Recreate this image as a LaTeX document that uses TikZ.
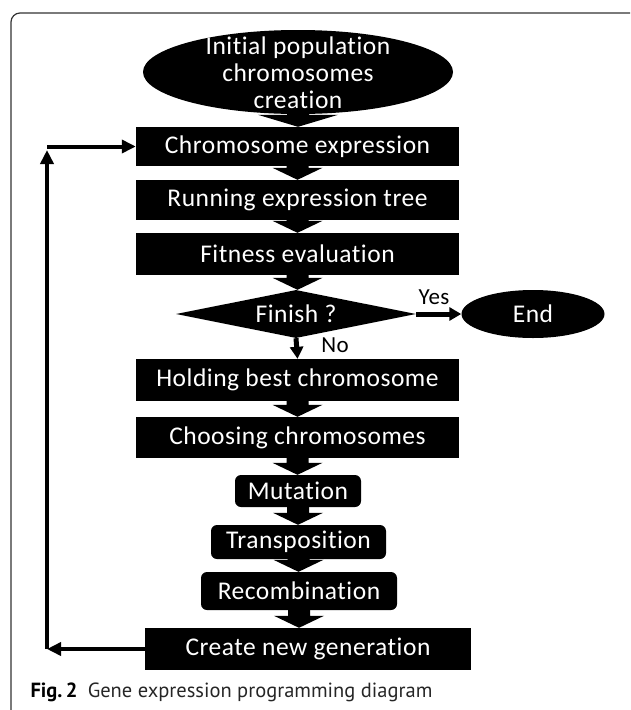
\documentclass[tikz,border=0pt]{standalone}
\usepackage{fontspec}
\setmainfont{Carlito}[RawFeature=-liga, LetterSpace=2]
\newfontfamily\capfont{PT Sans}
\usetikzlibrary{shapes.geometric,arrows.meta,calc}

% thick downward block arrow from the bottom of one node to the top of the next
\newcommand\blkarrow[3][25]{%
  \fill let \p1=(#2.south), \p2=(#3.north) in
    (\x1-11,\y1+2) -- (\x1+11,\y1+2) -- (\x1+11,\y2+12) -- (\x1+#1,\y2+12)
    -- (\x1,\y2) -- (\x1-#1,\y2+12) -- (\x1-11,\y2+12) -- cycle;}

\begin{document}
\begin{tikzpicture}[x=1pt,y=-1pt,
  boxtext/.style={text=white, font=\fontsize{25.5}{27}\selectfont},
  stepbox/.style={boxtext, fill=black, inner sep=0pt, minimum width=#1},
  roundbox/.style={stepbox=#1, rounded corners=6pt},
  oval/.style={boxtext, fill=black, ellipse, inner sep=0pt},
  decision/.style={boxtext, fill=black, diamond, aspect=5, inner sep=0pt},
  lbl/.style={font=\fontsize{23}{24}\selectfont},
  flow/.style={line width=5pt, -{Triangle[length=12pt,width=13pt]}},
  loop/.style={line width=4pt, -{Triangle[length=14pt,width=13pt]}}]
\useasboundingbox (0,0) rectangle (630,710);

% surrounding frame
\begin{scope}
  \clip (0,0) rectangle (630,710);
  \draw[black!80, line width=1.2pt, rounded corners=9pt] (11,13) rectangle (645,725);
\end{scope}

% start
\node[oval, minimum width=310pt, minimum height=84pt] (init) at (298,72) {};

% main steps
\node[stepbox=323pt, minimum height=39pt] (ce)  at (297.5,146.5) {Chromosome expression};
\node[stepbox=323pt, minimum height=40pt] (ret) at (297.5,200) {Running expression tree};
\node[stepbox=323pt, minimum height=42pt] (fe)  at (297.5,254) {Fitness evaluation};
\node[decision, minimum width=240pt, minimum height=48pt] (dia) at (296,314) {Finish ?};
\node[oval, minimum width=143pt, minimum height=48pt] (end) at (533,314) {End};
\node[stepbox=323pt, minimum height=42pt] (hbc) at (297.5,380) {Holding best chromosome};
\node[stepbox=323pt, minimum height=41pt] (cc)  at (297.5,437.5) {Choosing chromosomes};
\node[roundbox=126pt, minimum height=32pt] (mut) at (298,491) {Mutation};
\node[roundbox=175pt, minimum height=34pt] (tra) at (298.5,542) {Transposition};
\node[roundbox=196pt, minimum height=38pt] (rec) at (299,591) {Recombination};
\node[stepbox=326pt, minimum height=42pt] (cng) at (308,649) {Create new generation};

% block arrows
\blkarrow[40]{init}{ce}
\blkarrow{ce}{ret}
\blkarrow{ret}{fe}
\blkarrow{fe}{dia}
\blkarrow{hbc}{cc}
\blkarrow{cc}{mut}
\blkarrow{mut}{tra}
\blkarrow{tra}{rec}
\blkarrow{rec}{cng}

% text of the start ellipse, set on top of the first arrow
\node[boxtext, align=center] (inittxt) at (298,73) {Initial population\\chromosomes\\creation};

% decision branches
\draw[flow] (dia.east) -- (end.west);
\node[lbl] (yes) at (434,297) {Yes};
\draw[flow] (dia.south) -- (hbc.north);
\node[lbl] (no) at (335,345) {No};

% loop back to the expression step
\coordinate (lb) at (47,649);
\coordinate (lt) at (47,146.5);
\coordinate (ltip) at (47,150);
\draw[loop] (cng.west) -- (lb);
\draw[loop] (lb) -- (ltip);
\draw[loop] (lt) -- (ce.west);

% caption
\node[anchor=base west, font=\capfont\fontsize{20.5}{22}\selectfont, text=black!85] (cap) at (27,697)
  {\textbf{\color{black}Fig.\,2}\hspace{0.5em}Gene expression programming diagram};
\end{tikzpicture}
\end{document}
